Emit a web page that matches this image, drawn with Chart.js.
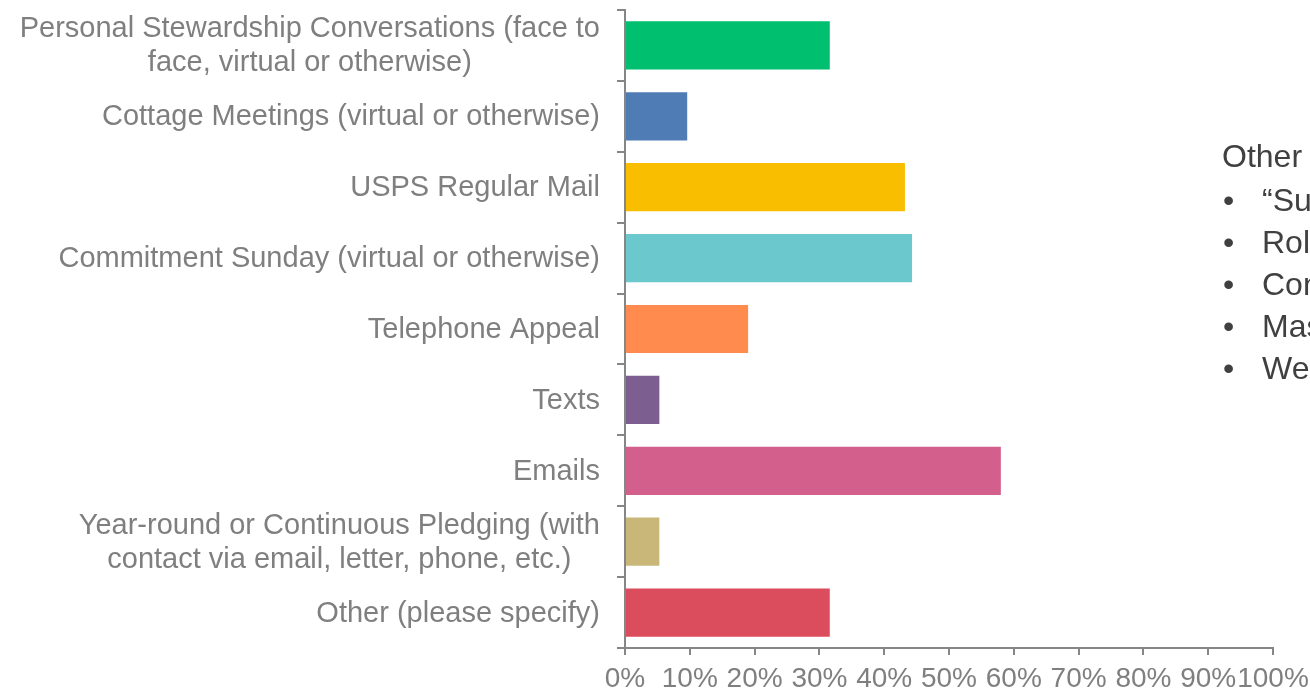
<!DOCTYPE html>
<html>
<head>
<meta charset="utf-8">
<script src="https://cdn.jsdelivr.net/npm/chart.js@4"></script>
<style>
  html, body { margin: 0; padding: 0; background: #fff; overflow: hidden; }
  #wrap { position: relative; width: 1310px; height: 696px; }
  #note {
    position: absolute; left: 1222px; top: 135px; white-space: nowrap;
    font-family: "Liberation Sans", Arial, sans-serif; font-size: 32px; color: #404040;
    line-height: 42px;
  }
  #note ul { margin: 2px 0 0 0; padding: 0; list-style: none; }
  #note li { position: relative; padding-left: 40px; }
  #note li::before { content: "\2022"; position: absolute; left: 1px; }
</style>
</head>
<body>
<div id="wrap">
  <canvas id="chart" width="1310" height="696"></canvas>
  <div id="note">
    Other
    <ul>
      <li>“Sunday Minute” talks</li>
      <li>Role of the vestry</li>
      <li>Congregational meeting</li>
      <li>Mass mailing</li>
      <li>Website</li>
    </ul>
  </div>
</div>
<script>
const categories = [
  ["Personal Stewardship Conversations (face to", "face, virtual or otherwise)"],
  "Cottage Meetings (virtual or otherwise)",
  "USPS Regular Mail",
  "Commitment Sunday (virtual or otherwise)",
  "Telephone Appeal",
  "Texts",
  "Emails",
  ["Year-round or Continuous Pledging (with", "contact via email, letter, phone, etc.)"],
  "Other (please specify)"
];
const percentages = [31.6, 9.6, 43.2, 44.3, 19.0, 5.3, 58.0, 5.3, 31.6];
const barColors = ["#00BF6F", "#507CB6", "#F9BE00", "#6BC8CD", "#FF8B4F", "#7D5E90", "#D35F8D", "#C9B77A", "#DB4D5C"];
const tickValues = [0, 10, 20, 30, 40, 50, 60, 70, 80, 90, 100];

const axisColor = "#868686";
const labelColor = "#7F7F7F";
const family = "'Liberation Sans', Arial, sans-serif";

// category labels: multi-line ones are centred as a block, right edge at the axis
const categoryLabels = {
  id: "categoryLabels",
  afterDraw(chart) {
    const { ctx } = chart;
    const y = chart.scales.y;
    const right = y.right - 8 - 17;
    ctx.save();
    ctx.font = "29px " + family;
    ctx.fillStyle = labelColor;
    ctx.textBaseline = "middle";
    ctx.textAlign = "center";
    chart.data.labels.forEach((label, i) => {
      const lines = Array.isArray(label) ? label : [label];
      const widest = Math.max(...lines.map(l => ctx.measureText(l).width));
      const cx = right - widest / 2;
      const cy = y.getPixelForTick(i);
      lines.forEach((line, j) => {
        ctx.fillText(line, cx, cy + (j - (lines.length - 1) / 2) * 34 + 1);
      });
    });
    ctx.restore();
  }
};

new Chart(document.getElementById("chart"), {
  type: "bar",
  data: {
    labels: categories,
    datasets: [{
      data: percentages,
      backgroundColor: barColors,
      categoryPercentage: 1,
      barPercentage: 0.68
    }]
  },
  options: {
    indexAxis: "y",
    responsive: false,
    animation: false,
    layout: { padding: { top: 10, right: 37, left: 0, bottom: 0 } },
    plugins: { legend: { display: false }, tooltip: { enabled: false } },
    scales: {
      x: {
        min: 0,
        max: 100,
        afterBuildTicks: scale => { scale.ticks = tickValues.map(v => ({ value: v })); },
        afterFit: scale => {
          scale.height = 48;
          scale.paddingLeft = 0;
          scale.paddingRight = 0;
        },
        ticks: {
          color: labelColor,
          font: { family, size: 28 },
          padding: 7,
          maxRotation: 0,
          autoSkip: false,
          callback: v => v + "%"
        },
        grid: { drawOnChartArea: false, tickLength: 7, color: axisColor, lineWidth: 2 },
        border: { color: axisColor, width: 2 }
      },
      y: {
        afterFit: scale => {
          scale.width = 625;
          scale.paddingTop = 0;
          scale.paddingBottom = 0;
        },
        ticks: { display: false },
        grid: { drawOnChartArea: false, offset: true, tickLength: 8, color: axisColor, lineWidth: 2 },
        border: { color: axisColor, width: 2 }
      }
    }
  },
  plugins: [categoryLabels]
});
</script>
</body>
</html>
